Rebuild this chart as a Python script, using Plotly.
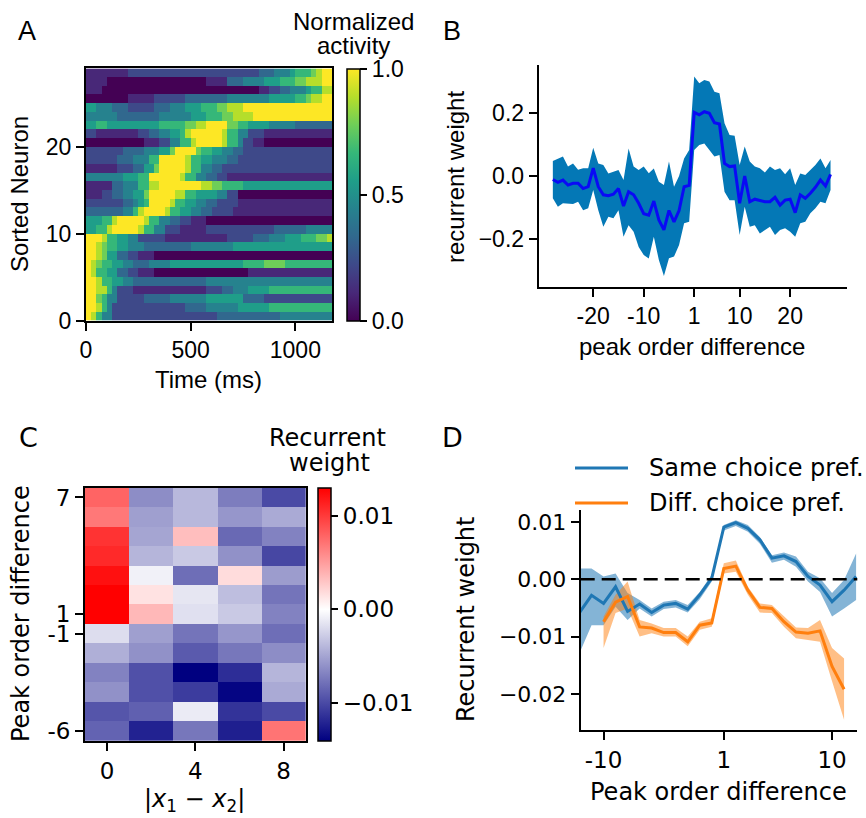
import plotly.graph_objects as go

W, H = 866, 818
def px(x):
    return x / W
def py(y):
    return 1 - y / H

FA = "Liberation Sans, Arial, sans-serif"
FC = "DejaVu Sans, sans-serif"

# ---------------- Panel A: normalized activity (rows bottom->top, run-length digits 0..9 -> 0..1)
time_bin_ms = 25
n_time_bins = 47
activity_runs = [
    [(9,1),(8,1),(6,1),(4,2),(2,20),(3,12),(4,10)],
    [(9,2),(8,1),(6,1),(4,1),(2,14),(3,4),(4,6),(5,6),(6,12)],
    [(9,2),(7,1),(6,1),(4,2),(2,5),(3,5),(4,7),(5,7),(3,4),(2,13)],
    [(9,2),(8,2),(6,1),(4,1),(2,3),(1,14),(2,3),(3,2),(4,3),(5,4),(6,12)],
    [(9,2),(8,1),(6,2),(5,2),(4,2),(3,14),(4,24)],
    [(9,1),(8,1),(6,2),(5,2),(3,2),(2,2),(1,3),(0,18),(1,16)],
    [(9,1),(8,1),(7,1),(6,2),(5,2),(4,2),(3,3),(4,4),(5,14),(6,4),(7,4),(6,9)],
    [(9,2),(8,1),(7,1),(5,2),(3,2),(2,2),(1,3),(0,34)],
    [(9,2),(8,1),(7,1),(6,2),(5,2),(4,3),(3,9),(4,8),(5,19)],
    [(9,3),(8,1),(6,2),(5,2),(4,2),(2,5),(1,12),(2,5),(3,3),(4,3),(5,3),(6,3),(7,2),(8,1)],
    [(5,2),(6,2),(8,1),(9,5),(8,1),(6,2),(4,2),(2,3),(1,5),(2,13),(3,6),(4,5)],
    [(5,3),(6,2),(8,1),(9,5),(8,1),(6,2),(4,2),(3,2),(2,2),(1,3),(0,24)],
    [(3,7),(4,2),(6,1),(8,1),(9,4),(8,1),(6,2),(5,2),(4,2),(3,2),(2,4),(1,19)],
    [(2,7),(3,2),(4,1),(5,1),(6,1),(9,4),(8,1),(6,2),(5,2),(4,2),(3,2),(2,4),(1,18)],
    [(1,3),(2,2),(3,2),(4,2),(5,2),(7,1),(9,5),(8,2),(6,2),(5,4),(4,2),(2,2),(0,18)],
    [(1,5),(3,2),(4,3),(6,2),(8,2),(9,8),(8,2),(7,2),(6,4),(5,17)],
    [(4,7),(5,3),(6,2),(9,6),(8,1),(6,2),(4,2),(3,2),(2,2),(1,20)],
    [(1,6),(2,3),(3,2),(5,2),(7,1),(9,5),(8,1),(6,2),(4,2),(3,2),(2,21)],
    [(2,6),(3,3),(4,3),(6,2),(9,5),(8,1),(6,2),(5,2),(4,3),(3,2),(2,18)],
    [(2,7),(3,4),(4,3),(5,2),(7,1),(9,4),(7,1),(6,2),(5,2),(4,2),(3,2),(2,17)],
    [(0,11),(1,3),(2,2),(4,2),(6,2),(8,1),(9,5),(8,1),(6,2),(4,1),(2,2),(1,2),(0,13)],
    [(2,2),(1,8),(2,2),(3,2),(4,2),(5,2),(6,1),(8,1),(9,6),(8,1),(6,2),(4,2),(2,3),(1,13)],
    [(5,2),(6,2),(5,10),(6,5),(7,2),(8,2),(9,4),(7,2),(6,2),(5,4),(4,5),(3,7)],
    [(4,6),(3,8),(4,6),(5,3),(6,3),(7,2),(8,4),(9,15)],
    [(5,2),(4,3),(3,3),(2,5),(3,3),(4,3),(5,3),(6,3),(7,2),(8,3),(9,17)],
    [(0,8),(1,5),(2,6),(3,8),(4,8),(5,5),(6,2),(7,1),(8,2),(9,2)],
    [(1,3),(0,30),(1,2),(2,2),(3,2),(4,3),(5,1),(6,2),(8,2)],
    [(1,4),(0,19),(1,4),(3,3),(4,4),(5,3),(6,3),(7,2),(8,3),(9,2)],
    [(1,8),(2,25),(3,3),(4,3),(5,1),(6,3),(7,1),(8,1),(9,2)],
]
activity = []
for runs in activity_runs:
    row = []
    for d, n in runs:
        row += [d / 9.0] * n
    assert len(row) == n_time_bins, (len(row), runs)
    activity.append(row)
time_centers = [time_bin_ms * (k + 0.5) for k in range(n_time_bins)]
neuron_centers = [r + 0.5 for r in range(len(activity))]

# ---------------- Panel B
B_diff = list(range(-28, 0)) + list(range(1, 29))
B_mean = [-0.011,-0.02,-0.013,-0.029,-0.023,-0.023,-0.04,-0.034,0.025,-0.034,
          -0.06,-0.063,-0.058,-0.04,-0.096,-0.05,-0.06,-0.087,-0.12,-0.125,
          -0.08,-0.14,-0.172,-0.11,-0.146,-0.11,-0.034,-0.03,
          0.203,0.195,0.205,0.2,0.17,0.166,0.04,0.03,0.032,-0.087,
          0.0,-0.082,-0.074,-0.079,-0.082,-0.082,-0.068,-0.093,-0.077,-0.074,
          -0.117,-0.06,-0.071,-0.055,-0.036,-0.013,-0.032,0.005]
B_upper = [0.048,0.056,0.062,0.03,0.04,0.02,0.025,0.025,0.09,0.04,
           0.035,0.008,0.014,0.019,-0.013,0.088,0.03,0.019,0.03,0.009,
           0.024,-0.018,-0.029,0.046,-0.034,0.0,0.056,0.083,
           0.317,0.296,0.306,0.301,0.269,0.264,0.168,0.131,0.128,0.035,
           0.094,0.046,0.03,0.025,0.011,0.03,0.019,0.025,0.006,0.025,
           -0.029,0.008,0.003,0.019,0.035,0.056,0.025,0.051]
B_lower = [-0.071,-0.098,-0.087,-0.087,-0.089,-0.082,-0.109,-0.103,-0.045,-0.109,
           -0.162,-0.13,-0.135,-0.109,-0.194,-0.157,-0.178,-0.226,-0.252,-0.263,
           -0.194,-0.268,-0.319,-0.262,-0.257,-0.22,-0.151,-0.146,
           0.083,0.099,0.104,0.083,0.062,0.067,-0.05,-0.077,-0.077,-0.188,
           -0.098,-0.162,-0.157,-0.183,-0.172,-0.162,-0.188,-0.172,-0.167,-0.178,
           -0.194,-0.151,-0.146,-0.119,-0.103,-0.082,-0.087,-0.045]
B_ticks = [-20, -10, 1, 10, 20]

# ---------------- Panel C
C_dist = [0, 2, 4, 6, 8]
C_peak = [7, 6, 5, 4, 3, 2, 1, -1, -2, -3, -4, -5, -6]
C_weight = [
    [0.0079, -0.0063, -0.0039, -0.0072, -0.0100],
    [0.0069, -0.0053, -0.0039, -0.0058, -0.0047],
    [0.0104, -0.0050, 0.0033, -0.0083, -0.0069],
    [0.0109, -0.0041, -0.0030, -0.0061, -0.0102],
    [0.0122, -0.0008, -0.0080, 0.0018, -0.0055],
    [0.0130, 0.0015, -0.0014, -0.0036, -0.0077],
    [0.0130, 0.0036, -0.0017, -0.0030, -0.0069],
    [-0.0019, -0.0053, -0.0077, -0.0058, -0.0080],
    [-0.0044, -0.0061, -0.0091, -0.0075, -0.0063],
    [-0.0069, -0.0097, -0.0141, -0.0116, -0.0041],
    [-0.0061, -0.0097, -0.0108, -0.0138, -0.0047],
    [-0.0094, -0.0088, -0.0011, -0.0113, -0.0100],
    [-0.0086, -0.0122, -0.0075, -0.0124, 0.0071],
]
C_ticks = [7, 1, -1, -6]
C_zmin, C_zmax = -0.0141, 0.0130

# ---------------- Panel D
D_same_diff = list(range(-12, 0)) + list(range(1, 13))
D_same_mean = [-0.0058,-0.0028,-0.0042,-0.0013,-0.0056,-0.0043,-0.0058,-0.0045,-0.0042,-0.0052,-0.0027,0.0002,
               0.0091,0.0099,0.0089,0.0069,0.0037,0.0041,0.0031,0.0005,-0.0010,-0.0039,-0.0019,0.0005]
D_same_upper = [0.0019,0.0019,0.0005,0.0010,-0.0024,-0.0036,-0.0051,-0.0039,-0.0036,-0.0045,-0.0022,0.0008,
                0.0095,0.0103,0.0095,0.0074,0.0042,0.0047,0.0040,0.0013,0.0002,-0.0024,-0.0001,0.0045]
D_same_lower = [-0.0129,-0.0080,-0.0080,-0.0048,-0.0071,-0.0051,-0.0065,-0.0052,-0.0049,-0.0058,-0.0035,-0.0004,
                0.0085,0.0093,0.0083,0.0062,0.0029,0.0034,0.0022,-0.0004,-0.0022,-0.0065,-0.0051,-0.0036]
D_diff_diff = list(range(-10, 0)) + list(range(1, 12))
D_diff_mean = [-0.0074,-0.0040,-0.0030,-0.0083,-0.0085,-0.0093,-0.0093,-0.0109,-0.0080,-0.0076,
               0.0019,0.0023,-0.0019,-0.0049,-0.0051,-0.0074,-0.0092,-0.0094,-0.0090,-0.0152,-0.0192]
D_diff_upper = [-0.0065,-0.0027,-0.0004,-0.0071,-0.0077,-0.0085,-0.0085,-0.0100,-0.0074,-0.0068,
                0.0028,0.0033,-0.0013,-0.0042,-0.0045,-0.0065,-0.0084,-0.0085,-0.0071,-0.0120,-0.0138]
D_diff_lower = [-0.0120,-0.0059,-0.0051,-0.0100,-0.0094,-0.0100,-0.0100,-0.0117,-0.0088,-0.0083,
                0.0010,0.0013,-0.0027,-0.0058,-0.0059,-0.0083,-0.0103,-0.0106,-0.0109,-0.0178,-0.0245]
D_ticks = [-10, 1, 10]
D_names = ["Same choice pref.", "Diff. choice pref."]


def pos(v):
    # peak order difference has no 0: -1 and 1 are adjacent
    return v if v < 0 else v - 1

fig = go.Figure()

# Panel A
fig.add_trace(go.Heatmap(
    x=time_centers, y=neuron_centers, z=activity, colorscale="Viridis",
    zmin=0, zmax=1, xaxis="x", yaxis="y",
    colorbar=dict(x=px(347), xanchor="left", xref="paper", y=py(194.5), yanchor="middle",
                  len=252.3 / H, lenmode="fraction", thickness=13, xpad=0, ypad=0,
                  outlinewidth=1.5, outlinecolor="black",
                  tickvals=[0, 0.5, 1], ticktext=["0.0", "0.5", "1.0"],
                  ticks="outside", ticklen=7, tickwidth=2, tickcolor="black",
                  tickfont=dict(family=FA, size=23, color="black")),
))

# Panel B
Bx = [pos(v) for v in B_diff]
fig.add_trace(go.Scatter(x=Bx, y=B_lower, mode="lines", line=dict(width=0),
                         xaxis="x2", yaxis="y2", showlegend=False, hoverinfo="skip"))
fig.add_trace(go.Scatter(x=Bx, y=B_upper, mode="lines", line=dict(width=0),
                         fill="tonexty", fillcolor="#0478b6",
                         xaxis="x2", yaxis="y2", showlegend=False, hoverinfo="skip"))
fig.add_trace(go.Scatter(x=Bx, y=B_mean, mode="lines", line=dict(color="#0a0af5", width=3),
                         xaxis="x2", yaxis="y2", showlegend=False))

# Panel C
C_rowpos = [pos(v) + 6 for v in C_peak]
bwr_like = [[0.0, "rgb(0,0,128)"], [C_zmin / (C_zmin - C_zmax), "rgb(255,255,255)"], [1.0, "rgb(255,0,0)"]]
fig.add_trace(go.Heatmap(
    x=C_dist, y=C_rowpos, z=C_weight, colorscale=bwr_like, zmin=C_zmin, zmax=C_zmax,
    xaxis="x3", yaxis="y3",
    colorbar=dict(x=px(318.3), xanchor="left", xref="paper", y=py(614.3), yanchor="middle",
                  len=253.3 / H, lenmode="fraction", thickness=13, xpad=0, ypad=0,
                  outlinewidth=1.5, outlinecolor="black",
                  tickvals=[-0.01, 0, 0.01], ticktext=["\u22120.01", "0.00", "0.01"],
                  ticks="outside", ticklen=7, tickwidth=2, tickcolor="black",
                  tickfont=dict(family=FC, size=23, color="black")),
))

# Panel D
blue, orange = "#1f77b4", "#ff7f0e"
Dsx = [pos(v) for v in D_same_diff]
Ddx = [pos(v) for v in D_diff_diff]
fig.add_trace(go.Scatter(x=Dsx, y=D_same_lower, mode="lines", line=dict(width=0),
                         xaxis="x4", yaxis="y4", showlegend=False, hoverinfo="skip"))
fig.add_trace(go.Scatter(x=Dsx, y=D_same_upper, mode="lines", line=dict(width=0),
                         fill="tonexty", fillcolor="rgba(31,119,180,0.55)",
                         xaxis="x4", yaxis="y4", showlegend=False, hoverinfo="skip"))
fig.add_trace(go.Scatter(x=Ddx, y=D_diff_lower, mode="lines", line=dict(width=0),
                         xaxis="x4", yaxis="y4", showlegend=False, hoverinfo="skip"))
fig.add_trace(go.Scatter(x=Ddx, y=D_diff_upper, mode="lines", line=dict(width=0),
                         fill="tonexty", fillcolor="rgba(255,127,14,0.5)",
                         xaxis="x4", yaxis="y4", showlegend=False, hoverinfo="skip"))
fig.add_trace(go.Scatter(x=Dsx, y=D_same_mean, mode="lines", line=dict(color=blue, width=3),
                         name=D_names[0], xaxis="x4", yaxis="y4", showlegend=False))
fig.add_trace(go.Scatter(x=Ddx, y=D_diff_mean, mode="lines", line=dict(color=orange, width=3),
                         name=D_names[1], xaxis="x4", yaxis="y4", showlegend=False))

ax_common = dict(showline=True, linewidth=2, linecolor="black", ticks="outside", ticklen=8,
                 tickwidth=2, tickcolor="black", showgrid=False, zeroline=False)

fig.update_layout(
    width=W, height=H, margin=dict(l=0, r=0, t=0, b=0, autoexpand=False),
    paper_bgcolor="white", plot_bgcolor="white", showlegend=False,
    xaxis=dict(**ax_common, domain=[px(86), px(332)], range=[0, time_bin_ms * n_time_bins],
               tickvals=[0, 500, 1000], mirror=True, anchor="y",
               tickfont=dict(family=FA, size=23, color="black")),
    yaxis=dict(**ax_common, domain=[py(320.7), py(68.4)], range=[0, len(activity)],
               tickvals=[0, 10, 20], mirror=True, anchor="x",
               tickfont=dict(family=FA, size=23, color="black")),
    xaxis2=dict(**ax_common, domain=[px(538.7), px(846.7)], range=[-30.8, 30.2],
                tickvals=[pos(v) for v in B_ticks], ticktext=[str(v) for v in B_ticks], anchor="y2",
                tickfont=dict(family=FA, size=23, color="black")),
    yaxis2=dict(**ax_common, domain=[py(286.7), py(65)], range=[-0.353, 0.354],
                tickvals=[-0.2, 0, 0.2], ticktext=["\u22120.2", "0.0", "0.2"], anchor="x2",
                tickfont=dict(family=FA, size=23, color="black")),
    xaxis3=dict(**ax_common, domain=[px(85), px(305.7)], range=[-1, 9],
                tickvals=[0, 4, 8], mirror=True, anchor="y3",
                tickfont=dict(family=FC, size=23, color="black")),
    yaxis3=dict(**ax_common, domain=[py(741), py(487.7)], range=[-0.5, 12.5],
                tickvals=[pos(v) + 6 for v in C_ticks], ticktext=[str(v) for v in C_ticks],
                mirror=True, anchor="x3",
                tickfont=dict(family=FC, size=23, color="black")),
    xaxis4=dict(**ax_common, domain=[px(580.7), px(857.3)], range=[-11.9, 11.1],
                tickvals=[pos(v) for v in D_ticks], ticktext=[str(v) for v in D_ticks], anchor="y4",
                tickfont=dict(family=FC, size=23, color="black")),
    yaxis4=dict(**ax_common, domain=[py(730), py(510)], range=[-0.0263, 0.0121],
                tickvals=[0.01, 0, -0.01, -0.02], ticktext=["0.01", "0.00", "\u22120.01", "\u22120.02"],
                anchor="x4",
                tickfont=dict(family=FC, size=22, color="black")),
)

# zero line in D
fig.add_shape(type="line", xref="x4 domain", yref="y4", x0=0, x1=1, y0=0, y1=0,
              line=dict(color="black", width=2.5, dash="14px,7px"))

# legend for D (drawn manually)
for name, col, yy in [(D_names[0], blue, 468), (D_names[1], orange, 503)]:
    fig.add_shape(type="line", xref="paper", yref="paper", x0=px(575), x1=px(628),
                  y0=py(yy), y1=py(yy), line=dict(color=col, width=3))
    fig.add_annotation(text=name, xref="paper", yref="paper", x=px(647), y=py(yy),
                       xanchor="left", yanchor="middle", showarrow=False,
                       font=dict(family=FC, size=24, color="black"))

def label(text, x, y, fam, size=24, angle=0):
    fig.add_annotation(text=text, xref="paper", yref="paper", x=px(x), y=py(y),
                       xanchor="center", yanchor="middle", showarrow=False, textangle=angle,
                       font=dict(family=fam, size=size, color="black"))

label("A", 27, 31, FA, 27)
label("B", 452, 31, FA, 27)
label("C", 28, 437, FC, 27)
label("D", 452, 437, FC, 27)
label("Normalized", 353, 21, FA)
label("activity", 353, 46, FA)
label("Sorted Neuron", 19, 194, FA, angle=-90)
label("Time (ms)", 208, 379, FA)
label("recurrent weight", 455, 177, FA, angle=-90)
label("peak order difference", 692, 346, FA)
label("Recurrent", 327, 438, FC)
label("weight", 329, 463, FC)
label("Peak order difference", 21, 614, FC, angle=-90)
label("|<i>x</i><sub>1</sub> \u2212 <i>x</i><sub>2</sub>|", 194, 800, FC)
label("Recurrent weight", 466, 619, FC, angle=-90)
label("Peak order difference", 718, 792, FC)

fig.write_html("out.html", config={"displayModeBar": False},
               post_script="document.body.style.margin='0px';document.body.style.padding='0px';document.body.style.overflow='hidden';")
